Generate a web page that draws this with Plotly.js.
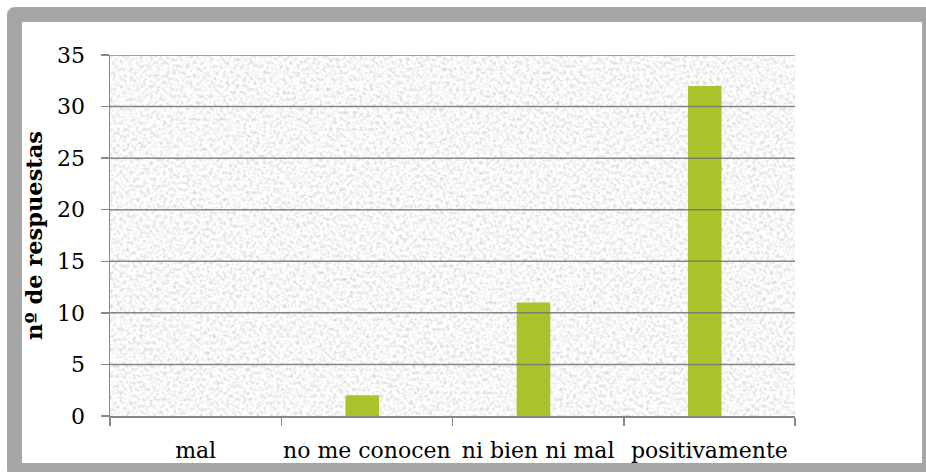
<!DOCTYPE html>
<html>
<head>
<meta charset="utf-8">
<script src="https://cdn.plot.ly/plotly-3.0.1.min.js"></script>
<style>
  html, body { margin: 0; padding: 0; background: #ffffff; overflow: hidden; }
  #frame {
    position: absolute; left: 7px; top: 7px;
    width: 900px; height: 441px;
    border: 15px solid #a6a6a6; border-radius: 8px;
    background: #ffffff;
  }
  #chart { position: absolute; left: 0; top: 0; width: 926px; height: 472px; }
</style>
</head>
<body>
<div id="frame"></div>
<div id="chart"></div>
<script>
"use strict";

var categories = ["mal", "no me conocen", "ni bien ni mal", "positivamente"];
var respuestas = [0, 2, 11, 32];
var yTicks = [0, 5, 10, 15, 20, 25, 30, 35];

// granite-like texture for the plot area
var texture = "<svg xmlns='http://www.w3.org/2000/svg' width='685' height='361'>" +
    "<filter id='n'><feTurbulence type='fractalNoise' baseFrequency='0.3' numOctaves='4' seed='7'/>" +
    "<feColorMatrix type='matrix' values='0.7 0 0 0 0.58  0.7 0 0 0 0.58  0.7 0 0 0 0.58  0 0 0 0 1'/></filter>" +
    "<rect width='100%' height='100%' filter='url(#n)'/></svg>";

var gridShapes = yTicks.filter(function(v){ return v > 0; }).map(function(v){
    return {
        type: "line", xref: "paper", yref: "y",
        x0: 0, x1: 1, y0: v, y1: v,
        layer: "above",
        line: {color: "rgba(115,115,115,0.85)", width: 1.5}
    };
});

var trace = {
    x: categories,
    y: respuestas,
    type: "bar",
    width: 0.196,
    offset: -0.125,
    marker: {color: "#a9c42a"},
    hoverinfo: "none"
};

var layout = {
    width: 926,
    height: 472,
    margin: {l: 110, r: 131, t: 55, b: 56},
    paper_bgcolor: "rgba(0,0,0,0)",
    plot_bgcolor: "#e9e9e9",
    showlegend: false,
    font: {family: "DejaVu Serif", size: 22, color: "#000000"},
    xaxis: {
        type: "category",
        showgrid: false,
        showline: true,
        linecolor: "#888888",
        linewidth: 1.5,
        ticks: "outside",
        tickson: "boundaries",
        ticklen: 8,
        tickwidth: 1.5,
        tickcolor: "#888888",
        tickangle: 0,
        ticklabelstandoff: 14,
        fixedrange: true
    },
    yaxis: {
        range: [0, 35],
        tickvals: yTicks,
        showgrid: false,
        zeroline: false,
        showline: true,
        linecolor: "#888888",
        linewidth: 1.5,
        ticks: "outside",
        ticklen: 8,
        tickwidth: 1.5,
        tickcolor: "#888888",
        ticklabelstandoff: 11,
        title: {
            text: "nº de respuestas",
            font: {family: "DejaVu Serif", size: 22.5, weight: "bold"},
            standoff: 8
        },
        fixedrange: true
    },
    shapes: gridShapes,
    images: [{
        source: "data:image/svg+xml;charset=utf-8," + encodeURIComponent(texture),
        xref: "paper", yref: "paper",
        x: 0, y: 1, sizex: 1, sizey: 1,
        sizing: "stretch",
        xanchor: "left", yanchor: "top",
        layer: "below"
    }]
};

Plotly.newPlot("chart", [trace], layout, {displayModeBar: false, staticPlot: true});
</script>
</body>
</html>
